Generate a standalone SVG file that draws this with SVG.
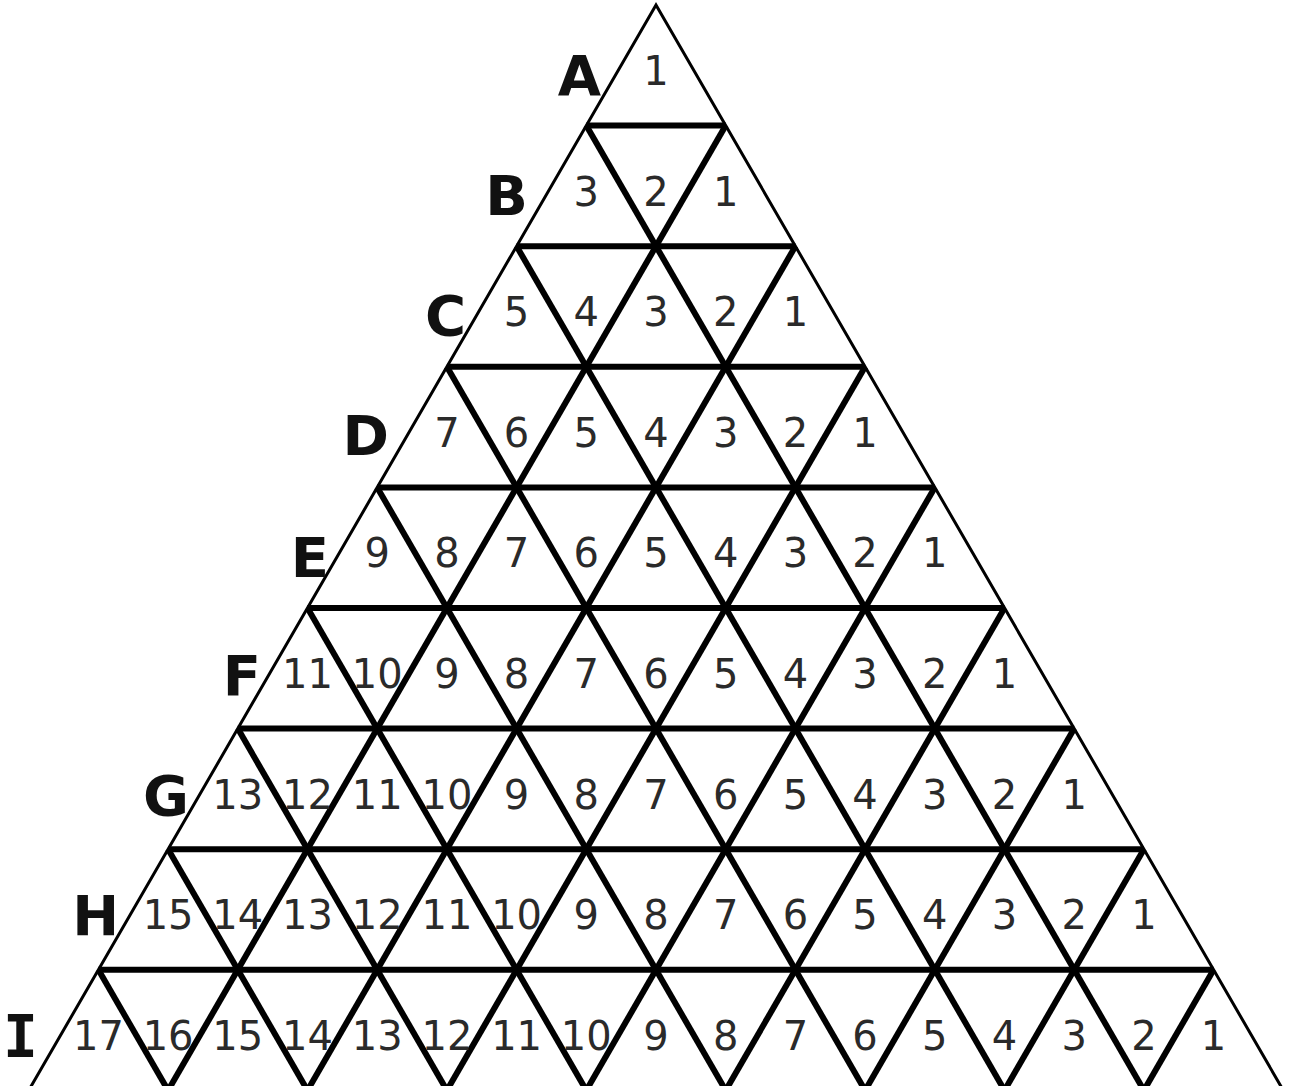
<svg xmlns="http://www.w3.org/2000/svg" width="1290" height="1086" viewBox="0 0 1290 1086">
<style>
.outer{stroke:#000;stroke-width:3;fill:none;stroke-linejoin:miter}
.inner{stroke:#000;stroke-width:6;fill:none}
.n{font-family:"DejaVu Sans",sans-serif;font-size:40px;fill:#2a2a2a;text-anchor:middle}
.r{font-family:"DejaVu Sans",sans-serif;font-weight:bold;font-size:56px;fill:#111;text-anchor:end}
.ri{font-family:"DejaVu Sans Mono",monospace;font-weight:bold;font-size:58px;fill:#111;text-anchor:end}
</style>
<rect width="1290" height="1086" fill="#fff"/>
<g id="connectors">
<polyline class="outer" points="28.7,1090.4 656,5 1283.3,1090.4"/>
<line class="inner" x1="586.3" y1="125.6" x2="725.7" y2="125.6"/>
<line class="inner" x1="516.6" y1="246.2" x2="795.4" y2="246.2"/>
<line class="inner" x1="446.9" y1="366.8" x2="865.1" y2="366.8"/>
<line class="inner" x1="377.2" y1="487.4" x2="934.8" y2="487.4"/>
<line class="inner" x1="307.5" y1="608" x2="1004.5" y2="608"/>
<line class="inner" x1="237.8" y1="728.6" x2="1074.2" y2="728.6"/>
<line class="inner" x1="168.1" y1="849.2" x2="1143.9" y2="849.2"/>
<line class="inner" x1="98.4" y1="969.8" x2="1213.6" y2="969.8"/>
<line class="inner" x1="586.3" y1="125.6" x2="1143.9" y2="1090.4"/>
<line class="inner" x1="516.6" y1="246.2" x2="1004.5" y2="1090.4"/>
<line class="inner" x1="446.9" y1="366.8" x2="865.1" y2="1090.4"/>
<line class="inner" x1="377.2" y1="487.4" x2="725.7" y2="1090.4"/>
<line class="inner" x1="307.5" y1="608" x2="586.3" y2="1090.4"/>
<line class="inner" x1="237.8" y1="728.6" x2="446.9" y2="1090.4"/>
<line class="inner" x1="168.1" y1="849.2" x2="307.5" y2="1090.4"/>
<line class="inner" x1="98.4" y1="969.8" x2="168.1" y2="1090.4"/>
<line class="inner" x1="725.7" y1="125.6" x2="168.1" y2="1090.4"/>
<line class="inner" x1="795.4" y1="246.2" x2="307.5" y2="1090.4"/>
<line class="inner" x1="865.1" y1="366.8" x2="446.9" y2="1090.4"/>
<line class="inner" x1="934.8" y1="487.4" x2="586.3" y2="1090.4"/>
<line class="inner" x1="1004.5" y1="608" x2="725.7" y2="1090.4"/>
<line class="inner" x1="1074.2" y1="728.6" x2="865.1" y2="1090.4"/>
<line class="inner" x1="1143.9" y1="849.2" x2="1004.5" y2="1090.4"/>
<line class="inner" x1="1213.6" y1="969.8" x2="1143.9" y2="1090.4"/>
</g>
<g id="row-labels">
<text class="r" x="601" y="95">A</text>
<text class="r" x="528" y="215">B</text>
<text class="r" x="466" y="335">C</text>
<text class="r" x="389" y="455">D</text>
<text class="r" x="329" y="577">E</text>
<text class="r" x="261" y="695">F</text>
<text class="r" x="189" y="815">G</text>
<text class="r" x="119" y="935">H</text>
<text class="ri" x="38" y="1057">I</text>
</g>
<g id="row-A">
<text class="n" x="656" y="85">1</text>
</g>
<g id="row-B">
<text class="n" x="586.3" y="205.6">3</text><text class="n" x="656" y="205.6">2</text><text class="n" x="725.7" y="205.6">1</text>
</g>
<g id="row-C">
<text class="n" x="516.6" y="326.2">5</text><text class="n" x="586.3" y="326.2">4</text><text class="n" x="656" y="326.2">3</text><text class="n" x="725.7" y="326.2">2</text><text class="n" x="795.4" y="326.2">1</text>
</g>
<g id="row-D">
<text class="n" x="446.9" y="446.8">7</text><text class="n" x="516.6" y="446.8">6</text><text class="n" x="586.3" y="446.8">5</text><text class="n" x="656" y="446.8">4</text><text class="n" x="725.7" y="446.8">3</text><text class="n" x="795.4" y="446.8">2</text><text class="n" x="865.1" y="446.8">1</text>
</g>
<g id="row-E">
<text class="n" x="377.2" y="567.4">9</text><text class="n" x="446.9" y="567.4">8</text><text class="n" x="516.6" y="567.4">7</text><text class="n" x="586.3" y="567.4">6</text><text class="n" x="656" y="567.4">5</text><text class="n" x="725.7" y="567.4">4</text><text class="n" x="795.4" y="567.4">3</text><text class="n" x="865.1" y="567.4">2</text><text class="n" x="934.8" y="567.4">1</text>
</g>
<g id="row-F">
<text class="n" x="307.5" y="688">11</text><text class="n" x="377.2" y="688">10</text><text class="n" x="446.9" y="688">9</text><text class="n" x="516.6" y="688">8</text><text class="n" x="586.3" y="688">7</text><text class="n" x="656" y="688">6</text><text class="n" x="725.7" y="688">5</text><text class="n" x="795.4" y="688">4</text><text class="n" x="865.1" y="688">3</text><text class="n" x="934.8" y="688">2</text><text class="n" x="1004.5" y="688">1</text>
</g>
<g id="row-G">
<text class="n" x="237.8" y="808.6">13</text><text class="n" x="307.5" y="808.6">12</text><text class="n" x="377.2" y="808.6">11</text><text class="n" x="446.9" y="808.6">10</text><text class="n" x="516.6" y="808.6">9</text><text class="n" x="586.3" y="808.6">8</text><text class="n" x="656" y="808.6">7</text><text class="n" x="725.7" y="808.6">6</text><text class="n" x="795.4" y="808.6">5</text><text class="n" x="865.1" y="808.6">4</text><text class="n" x="934.8" y="808.6">3</text><text class="n" x="1004.5" y="808.6">2</text><text class="n" x="1074.2" y="808.6">1</text>
</g>
<g id="row-H">
<text class="n" x="168.1" y="929.2">15</text><text class="n" x="237.8" y="929.2">14</text><text class="n" x="307.5" y="929.2">13</text><text class="n" x="377.2" y="929.2">12</text><text class="n" x="446.9" y="929.2">11</text><text class="n" x="516.6" y="929.2">10</text><text class="n" x="586.3" y="929.2">9</text><text class="n" x="656" y="929.2">8</text><text class="n" x="725.7" y="929.2">7</text><text class="n" x="795.4" y="929.2">6</text><text class="n" x="865.1" y="929.2">5</text><text class="n" x="934.8" y="929.2">4</text><text class="n" x="1004.5" y="929.2">3</text><text class="n" x="1074.2" y="929.2">2</text><text class="n" x="1143.9" y="929.2">1</text>
</g>
<g id="row-I">
<text class="n" x="98.4" y="1049.8">17</text><text class="n" x="168.1" y="1049.8">16</text><text class="n" x="237.8" y="1049.8">15</text><text class="n" x="307.5" y="1049.8">14</text><text class="n" x="377.2" y="1049.8">13</text><text class="n" x="446.9" y="1049.8">12</text><text class="n" x="516.6" y="1049.8">11</text><text class="n" x="586.3" y="1049.8">10</text><text class="n" x="656" y="1049.8">9</text><text class="n" x="725.7" y="1049.8">8</text><text class="n" x="795.4" y="1049.8">7</text><text class="n" x="865.1" y="1049.8">6</text><text class="n" x="934.8" y="1049.8">5</text><text class="n" x="1004.5" y="1049.8">4</text><text class="n" x="1074.2" y="1049.8">3</text><text class="n" x="1143.9" y="1049.8">2</text><text class="n" x="1213.6" y="1049.8">1</text>
</g>
</svg>
